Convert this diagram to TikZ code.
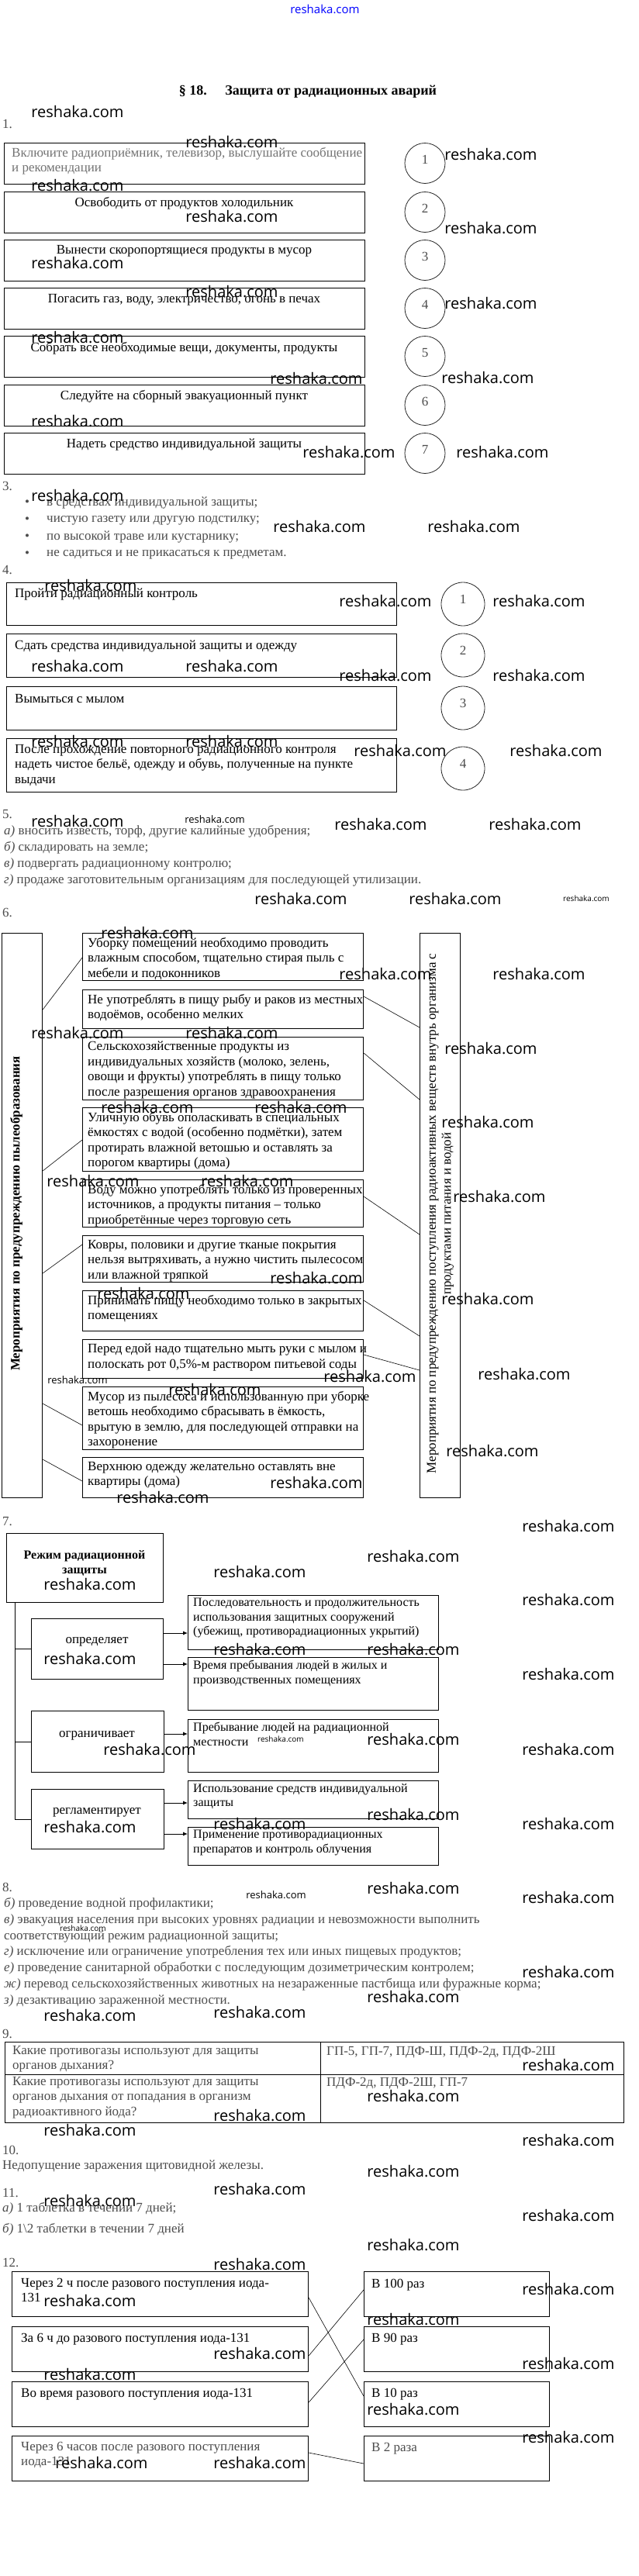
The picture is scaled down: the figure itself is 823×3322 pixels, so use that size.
\documentclass[tikz,border=0pt]{standalone}
\usepackage{fontspec}
\setmainfont{Liberation Serif}
\newfontfamily\wmfont{Open Sans}
\usetikzlibrary{arrows.meta}

\begin{document}
\begin{tikzpicture}[
    x=1pt, y=-1pt,
    every node/.style={inner sep=0pt, font=\fontsize{17}{19.5}\selectfont},
    boxf/.style={draw, line width=1.1pt, anchor=north west},
    txt/.style={anchor=north west, align=left, execute at begin node=\strut},
    lbl/.style={anchor=west},
    faded/.style={text=black!70},
    ring/.style={draw=black!85, circle, line width=0.8pt, minimum size=52pt},
    link/.style={line width=0.6pt},
    arr/.style={-{Latex[length=6pt,width=5pt]}, line width=0.8pt},
    wm/.style={font=\wmfont\fontsize{20}{20}\selectfont},
  ]
  \fill[white] (0,0) rectangle (823,3322);
  \useasboundingbox (0,0) rectangle (823,3322);

  % Header and title
  \node[text=blue, font=\wmfont\fontsize{15}{15}\selectfont] (head) at (419,12) {reshaka.com};
  \node[font=\bfseries\fontsize{18}{20}\selectfont] (title) at (397,118) {§ 18.\hspace{1.3em}Защита от радиационных аварий};

  % 1. Order of actions
  \node[lbl, faded] (n1) at (3,160) {1.};
  \foreach \i/\yy in {1/184, 2/247, 3/309, 4/371, 5/433, 6/496, 7/558} {
    \node[boxf, minimum width=465pt, minimum height=53pt] (a\i) at (5,\yy) {};
    \node[ring] (c\i) at (548,\yy+26.5) {};
    \node[faded] (cn\i) at (548,\yy+22) {\i};
  }
  \node[txt, text=black!55] (t1) at (15,190) {Включите радиоприёмник, телевизор, выслушайте сообщение\\и рекомендации};
  \node (t2) at (237.5,262) {Освободить от продуктов холодильник};
  \node (t3) at (237.5,324) {Вынести скоропортящиеся продукты в мусор};
  \node (t4) at (237.5,387) {Погасить газ, воду, электричество, огонь в печах};
  \node (t5) at (237.5,449) {Собрать все необходимые вещи, документы, продукты};
  \node (t6) at (237.5,511) {Следуйте на сборный эвакуационный пункт};
  \node (t7) at (237.5,574) {Надеть средство индивидуальной защиты};

  % 3. Bullets
  \node[lbl, faded] (n3) at (3,627) {3.};
  \foreach \i/\yy/\tx in {1/649/{в средствах индивидуальной защиты;},
      2/671/{чистую газету или другую подстилку;},
      3/693/{по высокой траве или кустарнику;},
      4/715/{не садиться и не прикасаться к предметам.}} {
    \node[faded] (bl\i) at (35,\yy) {\textbullet};
    \node[lbl, faded] (bt\i) at (60,\yy) {\tx};
  }

  % 4. Sanitary treatment
  \node[lbl, faded] (n4) at (3,735) {4.};
  \foreach \i/\yy/\hh in {1/751/55, 2/817/56, 3/885/56, 4/952/69} {
    \node[boxf, minimum width=503pt, minimum height=\hh pt] (p\i) at (8,\yy) {};
  }
  \foreach \i/\yy in {1/779, 2/845, 3/913, 4/991} {
    \node[ring, minimum size=56pt] (q\i) at (597,\yy) {};
    \node[faded] (qn\i) at (597,\yy-6) {\i};
  }
  \node[lbl] (pt1) at (19,766) {Пройти радиационный контроль};
  \node[lbl] (pt2) at (19,834) {Сдать средства индивидуальной защиты и одежду};
  \node[lbl] (pt3) at (19,901) {Вымыться с мылом};
  \node[txt] (pt4) at (19,960) {После прохождение повторного радиационного контроля\\надеть чистое бельё, одежду и обувь, полученные на пункте\\выдачи};

  % 5. Lines
  \node[lbl, faded] (n5) at (3,1050) {5.};
  \node[lbl, faded] (f1) at (5,1072) {\textit{а)} вносить известь, торф, другие калийные удобрения;};
  \node[lbl, faded] (f2) at (5,1093) {\textit{б)} складировать на земле;};
  \node[lbl, faded] (f3) at (5,1114) {\textit{в)} подвергать радиационному контролю;};
  \node[lbl, faded] (f4) at (5,1135) {\textit{г)} продаже заготовительным организациям для последующей утилизации.};

  % 6. Two groups of measures
  \node[lbl, faded] (n6) at (3,1177) {6.};
  \node[boxf, minimum width=52pt, minimum height=728pt] (sl) at (2,1203) {};
  \node[boxf, minimum width=52pt, minimum height=728pt] (sr) at (541,1203) {};
  \node[rotate=90, font=\bfseries\fontsize{17}{19.5}\selectfont] (slt) at (21,1565) {Мероприятия по предупреждению пылеобразования};
  \node[rotate=90, align=center] (srt) at (568,1565) {Мероприятия по предупреждению поступления радиоактивных веществ внутрь организма с\\продуктами питания и водой};
  \foreach \nm/\yy/\hh/\tx in {
      a/1203/61/{Уборку помещений необходимо проводить\\влажным способом, тщательно стирая пыль с\\мебели и подоконников},
      b/1276/50/{Не употреблять в пищу рыбу и раков из местных\\водоёмов, особенно мелких},
      c/1337/81/{Сельскохозяйственные продукты из\\индивидуальных хозяйств (молоко, зелень,\\овощи и фрукты) употреблять в пищу только\\после разрешения органов здравоохранения},
      d/1428/82/{Уличную обувь ополаскивать в специальных\\ёмкостях с водой (особенно подмётки), затем\\протирать влажной ветошью и оставлять за\\порогом квартиры (дома)},
      e/1521/61/{Воду можно употреблять только из проверенных\\источников, а продукты питания – только\\приобретённые через торговую сеть},
      f/1593/60/{Ковры, половики и другие тканые покрытия\\нельзя вытряхивать, а нужно чистить пылесосом\\или влажной тряпкой},
      g/1664/52/{Принимать пищу необходимо только в закрытых\\помещениях},
      h/1727/50/{Перед едой надо тщательно мыть руки с мылом и\\полоскать рот 0,5\%-м раствором питьевой соды},
      i/1788/81/{Мусор из пылесоса и использованную при уборке\\ветошь необходимо сбрасывать в ёмкость,\\врытую в землю, для последующей отправки на\\захоронение},
      j/1879/52/{Верхнюю одежду желательно оставлять вне\\квартиры (дома)}} {
    \node[boxf, minimum width=362pt, minimum height=\hh pt] (m\nm) at (106,\yy) {};
    \node[txt] (t\nm) at (113,\yy+6) {\tx};
  }
  \draw[link] (sl.east |- 0,1302) -- (ma.west |- 0,1235);
  \draw[link] (sl.east |- 0,1510) -- (md.west |- 0,1470);
  \draw[link] (sl.east |- 0,1642) -- (mf.west |- 0,1605);
  \draw[link] (sl.east |- 0,1810) -- (mi.west |- 0,1838);
  \draw[link] (sl.east |- 0,1882) -- (mj.west |- 0,1910);
  \draw[link] (mb.east |- 0,1285) -- (sr.west |- 0,1325);
  \draw[link] (mc.east |- 0,1358) -- (sr.west |- 0,1418);
  \draw[link] (me.east |- 0,1543) -- (sr.west |- 0,1592);
  \draw[link] (mg.east |- 0,1677) -- (sr.west |- 0,1723);
  \draw[link] (mh.east |- 0,1747) -- (sr.west |- 0,1767);

  % 7. Radiation protection mode
  \node[lbl, faded] (n7) at (3,1962) {7.};
  \node[boxf, minimum width=202pt, minimum height=89pt] (rz) at (8,1977) {};
  \node[align=center, font=\bfseries\fontsize{16}{19}\selectfont] (rzt) at (109,2016) {Режим радиационной\\защиты};
  \node[boxf, minimum width=170pt, minimum height=78pt] (op) at (40,2087) {};
  \node[boxf, minimum width=171pt, minimum height=79pt] (og) at (40,2206) {};
  \node[boxf, minimum width=171pt, minimum height=77pt] (rg) at (40,2307) {};
  \node (opt) at (125,2117) {определяет};
  \node (ogt) at (125,2238) {ограничивает};
  \node (rgt) at (125,2337) {регламентирует};
  \draw[link] (rz.south -| 19,0) |- (rg.west);
  \draw[link] (op.west -| 19,0) -- (op.west);
  \draw[link] (og.west -| 19,0) -- (og.west);
  \foreach \i/\yy/\hh/\tx in {
      1/2057/70/{Последовательность и продолжительность\\использования защитных сооружений\\(убежищ, противорадиационных укрытий)},
      2/2137/68/{Время пребывания людей в жилых и\\производственных помещениях},
      3/2217/68/{Пребывание людей на радиационной\\местности},
      4/2296/49/{Использование средств индивидуальной\\защиты},
      5/2356/49/{Применение противорадиационных\\препаратов и контроль облучения}} {
    \node[boxf, minimum width=323pt, minimum height=\hh pt] (k\i) at (242,\yy) {};
    \node[txt, font=\fontsize{16}{18.5}\selectfont] (kt\i) at (249,\yy+4) {\tx};
  }
  \draw[arr] (op.east |- 0,2106) -- (k1.west |- 0,2106);
  \draw[arr] (op.east |- 0,2146) -- (k2.west |- 0,2146);
  \draw[arr] (og.east |- 0,2236) -- (k3.west |- 0,2236);
  \draw[arr] (rg.east |- 0,2325) -- (k4.west |- 0,2325);
  \draw[arr] (rg.east |- 0,2365) -- (k5.west |- 0,2365);

  % 8. Lines
  \node[lbl, faded] (n8) at (3,2434) {8.};
  \node[lbl, faded] (e1) at (5,2455) {\textit{б)} проведение водной профилактики;};
  \node[lbl, faded] (e2) at (5,2476) {\textit{в)} эвакуация населения при высоких уровнях радиации и невозможности выполнить};
  \node[lbl, faded] (e3) at (5,2497) {соответствующий режим радиационной защиты;};
  \node[lbl, faded] (e4) at (5,2517) {\textit{г)} исключение или ограничение употребления тех или иных пищевых продуктов;};
  \node[lbl, faded] (e5) at (5,2538) {\textit{е)} проведение санитарной обработки с последующим дозиметрическим контролем;};
  \node[lbl, faded] (e6) at (5,2559) {\textit{ж)} перевод сельскохозяйственных животных на незараженные пастбища или фуражные корма;};
  \node[lbl, faded] (e7) at (5,2580) {\textit{з)} дезактивацию зараженной местности.};

  % 9. Table
  \node[lbl, faded] (n9) at (3,2623) {9.};
  \node[boxf, minimum width=407pt, minimum height=42pt] (g11) at (6,2633) {};
  \node[boxf, minimum width=391pt, minimum height=42pt] (g12) at (413,2633) {};
  \node[boxf, minimum width=407pt, minimum height=62pt] (g21) at (6,2675) {};
  \node[boxf, minimum width=391pt, minimum height=62pt] (g22) at (413,2675) {};
  \node[txt, faded] (gt11) at (16,2638) {Какие противогазы используют для защиты\\органов дыхания?};
  \node[lbl, faded] (gt12) at (421,2647) {ГП-5, ГП-7, ПДФ-Ш, ПДФ-2д, ПДФ-2Ш};
  \node[txt, faded] (gt21) at (16,2678) {Какие противогазы используют для защиты\\органов дыхания от попадания в организм\\радиоактивного йода?};
  \node[lbl, faded] (gt22) at (421,2687) {ПДФ-2д, ПДФ-2Ш, ГП-7};

  % 10, 11
  \node[lbl, faded] (n10) at (3,2773) {10.};
  \node[lbl, faded] (h1) at (3,2793) {Недопущение заражения щитовидной железы.};
  \node[lbl, faded] (n11) at (3,2828) {11.};
  \node[lbl, faded] (h2) at (3,2848) {\textit{а)} 1 таблетка в течении 7 дней;};
  \node[lbl, faded] (h3) at (3,2875) {\textit{б)} 1\textbackslash 2 таблетки в течении 7 дней};

  % 12. Matching
  \node[lbl, faded] (n12) at (3,2918) {12.};
  \foreach \i/\yy in {1/2929, 2/3000, 3/3071, 4/3141} {
    \node[boxf, minimum width=382pt, minimum height=58pt] (l\i) at (15,\yy) {};
    \node[boxf, minimum width=239pt, minimum height=58pt] (r\i) at (469,\yy) {};
  }
  \node[txt] (lt1) at (27,2938) {Через 2 ч после разового поступления иода-\\131};
  \node[lbl] (lt2) at (27,3017) {За 6 ч до разового поступления иода-131};
  \node[lbl] (lt3) at (27,3088) {Во время разового поступления иода-131};
  \node[txt, faded] (lt4) at (27,3149) {Через 6 часов после разового поступления\\иода-131};
  \node[lbl] (rt1) at (479,2947) {В 100 раз};
  \node[lbl] (rt2) at (479,3017) {В 90 раз};
  \node[lbl] (rt3) at (479,3088) {В 10 раз};
  \node[lbl, faded] (rt4) at (479,3158) {В 2 раза};
  \draw[link] (l1.east |- 0,2963) -- (r3.west |- 0,3090);
  \draw[link] (l2.east |- 0,3038) -- (r1.west |- 0,2953);
  \draw[link] (l3.east |- 0,3098) -- (r2.west |- 0,3017);
  \draw[link] (l4.east |- 0,3163) -- (r4.west |- 0,3177);

  % Watermarks
  \foreach \p [count=\i] in {(100,144),(299,183),(633,199),(100,239),(299,279),(633,294),
      (100,339),(299,376),(633,391),(100,435),(408,488),(629,487),(100,543),(450,583),(648,583),
      (100,639),(412,679),(611,679),(117,755),(497,775),(695,775),(100,859),(299,859),(497,871),(695,871),
      (100,956),(299,956),(516,968),(717,968),(100,1059),(491,1063),(690,1063),(388,1159),(587,1159),
      (190,1203),(497,1256),(695,1256),(100,1332),(299,1332),(633,1352),(190,1428),(388,1428),(629,1447),
      (120,1523),(319,1523),(644,1543),(408,1648),(185,1668),(629,1675),(477,1775),(676,1772),(277,1792),
      (635,1871),(408,1912),(210,1931),(733,1968),(533,2007),(335,2027),(116,2043),(733,2063),
      (335,2127),(533,2127),(116,2139),(733,2159),(533,2243),(193,2256),(733,2256),
      (533,2340),(335,2352),(733,2352),(116,2356),(533,2435),(733,2447),(733,2543),(533,2575),(116,2599),(335,2595),
      (733,2663),(533,2703),(335,2728),(116,2747),(733,2760),(533,2800),(335,2823),(116,2838),(733,2857),
      (533,2895),(335,2920),(733,2952),(116,2967),(533,2991),(335,3035),(733,3048),(116,3062),(533,3107),
      (733,3143),(131,3176),(335,3176)}
    \node[wm] (w\i) at \p {reshaka.com};
  \foreach \p [count=\i] in {(277,1057),(100,1780),(356,2444)}
    \node[font=\wmfont\fontsize{13}{13}\selectfont] (ws\i) at \p {reshaka.com};
  \foreach \p [count=\i] in {(756,1159),(362,2243),(107,2487)}
    \node[font=\wmfont\fontsize{10}{10}\selectfont] (wt\i) at \p {reshaka.com};
\end{tikzpicture}
\end{document}
